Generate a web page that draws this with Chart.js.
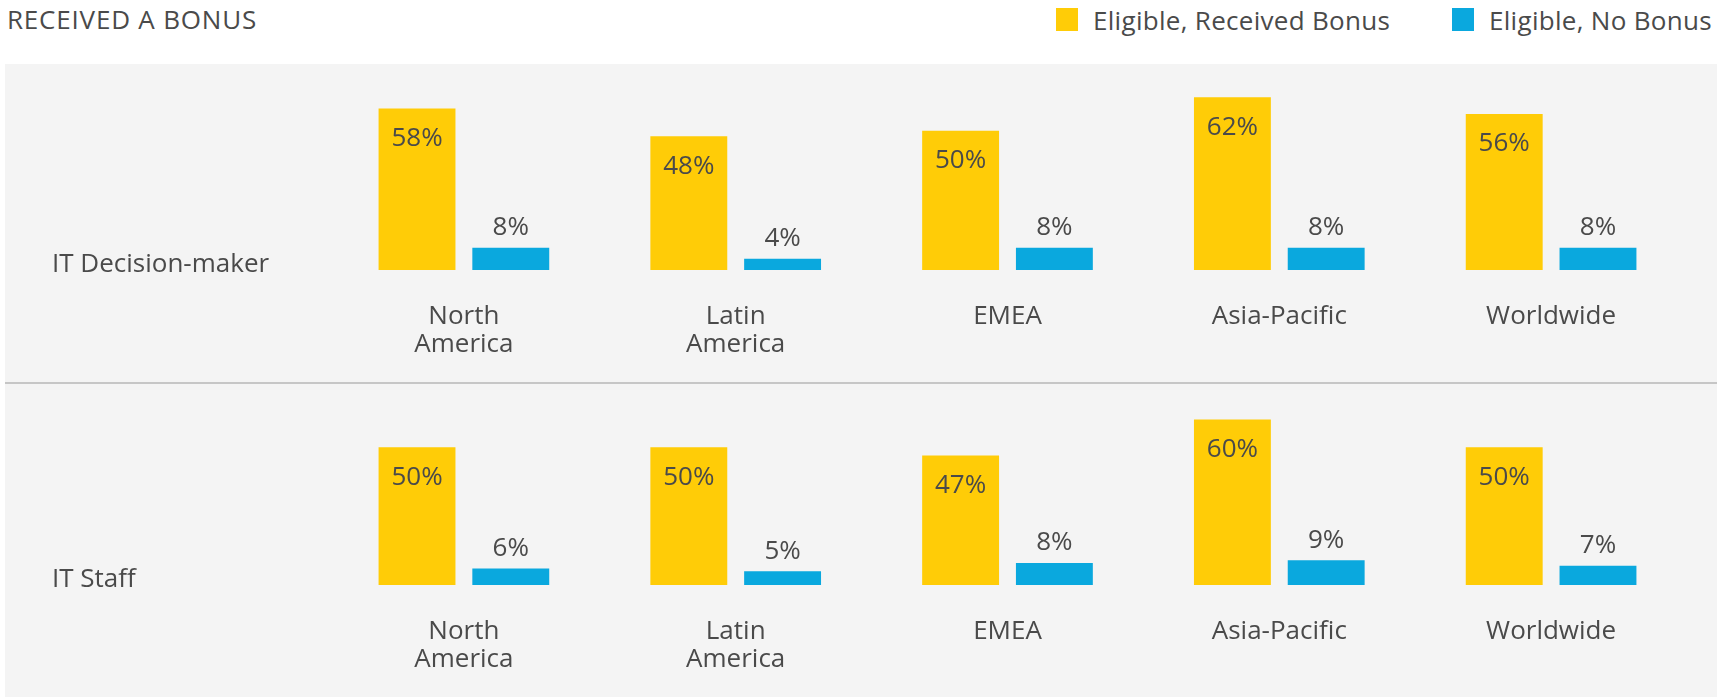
<!doctype html>
<html>

<head>
	<title>Received a Bonus</title>
	<script src="https://cdn.jsdelivr.net/npm/chart.js@4.4.1/dist/chart.umd.min.js"></script>
	<style>
		body {
			margin: 0;
			background: #fff;
			font-family: 'Open Sans', sans-serif;
			color: #4a4a4a;
		}
		#page {
			position: relative;
			width: 1729px;
			height: 697px;
			overflow: hidden;
		}
		#title {
			position: absolute;
			left: 7px;
			top: 2px;
			font-size: 26px;
			letter-spacing: 0.8px;
			line-height: 34px;
		}
		.legend-box {
			position: absolute;
			top: 8px;
			width: 22px;
			height: 23px;
		}
		.legend-text {
			position: absolute;
			top: 3px;
			font-size: 26px;
			letter-spacing: 0.3px;
			line-height: 34px;
		}
		.panel {
			position: absolute;
			left: 5px;
			width: 1712px;
			background: #f4f4f4;
		}
		#divider {
			position: absolute;
			left: 5px;
			width: 1712px;
			top: 382px;
			height: 2px;
			background: #c6c6c6;
		}
	</style>
</head>

<body>
	<div id="page">
		<div id="title">RECEIVED A BONUS</div>
		<div class="legend-box" style="left:1056px;background:#ffcc07;"></div>
		<div class="legend-text" id="legend0" style="left:1093px;"></div>
		<div class="legend-box" style="left:1452px;background:#0aa8de;"></div>
		<div class="legend-text" id="legend1" style="left:1489px;"></div>
		<div class="panel" style="top:64px;height:318px;"><canvas id="chart1"></canvas></div>
		<div id="divider"></div>
		<div class="panel" style="top:384px;height:313px;"><canvas id="chart2"></canvas></div>
	</div>
	<script>
		var regions = [['North', 'America'], ['Latin', 'America'], 'EMEA', 'Asia-Pacific', 'Worldwide'];
		var seriesNames = ['Eligible, Received Bonus', 'Eligible, No Bonus'];
		var rowLabels = ['IT Decision-maker', 'IT Staff'];

		var decisionMakerReceived = [58, 48, 50, 62, 56];
		var decisionMakerNoBonus = [8, 4, 8, 8, 8];
		var staffReceived = [50, 50, 47, 60, 50];
		var staffNoBonus = [6, 5, 8, 9, 7];

		var yellow = '#ffcc07';
		var blue = '#0aa8de';
		var textColor = '#4a4a4a';
		var fontFamily = "'Open Sans', sans-serif";

		document.getElementById('legend0').textContent = seriesNames[0];
		document.getElementById('legend1').textContent = seriesNames[1];

		// percentages above / inside the bars
		var valueLabels = {
			id: 'valueLabels',
			afterDatasetsDraw: function(chart) {
				var ctx = chart.ctx;
				ctx.save();
				ctx.font = '26px ' + fontFamily;
				ctx.fillStyle = textColor;
				ctx.textAlign = 'center';
				ctx.textBaseline = 'middle';
				chart.data.datasets.forEach(function(ds, i) {
					var meta = chart.getDatasetMeta(i);
					meta.data.forEach(function(bar, j) {
						var y = i === 0 ? bar.y + 30 : bar.y - 20;
						ctx.fillText(ds.data[j] + '%', bar.x, y);
					});
				});
				ctx.restore();
			}
		};

		// row name on the left of each panel
		var rowLabel = {
			id: 'rowLabel',
			afterDraw: function(chart, args, opts) {
				var ctx = chart.ctx;
				var base = chart.scales.y.getPixelForValue(0);
				ctx.save();
				ctx.font = '26px ' + fontFamily;
				ctx.fillStyle = textColor;
				ctx.textAlign = 'left';
				ctx.textBaseline = 'middle';
				ctx.fillText(opts.text, 47, base - 5);
				ctx.restore();
			}
		};

		function makeChart(id, label, received, noBonus, padTop, axisHeight) {
			return new Chart(document.getElementById(id), {
				type: 'bar',
				data: {
					labels: regions,
					datasets: [{
						label: seriesNames[0],
						data: received,
						backgroundColor: yellow,
						barPercentage: 0.82,
						categoryPercentage: 0.69
					}, {
						label: seriesNames[1],
						data: noBonus,
						backgroundColor: blue,
						barPercentage: 0.82,
						categoryPercentage: 0.69
					}]
				},
				options: {
					responsive: true,
					maintainAspectRatio: false,
					animation: false,
					layout: {
						padding: {top: padTop, left: 323, right: 30, bottom: 0}
					},
					plugins: {
						legend: {display: false},
						tooltip: {enabled: false},
						rowLabel: {text: label}
					},
					scales: {
						x: {
							grid: {display: false, drawTicks: false},
							border: {display: false},
							ticks: {
								color: textColor,
								font: {family: fontFamily, size: 26, lineHeight: 1.06},
								padding: 33,
								maxRotation: 0,
								autoSkip: false
							},
							afterFit: function(scale) {
								scale.height = axisHeight;
							}
						},
						y: {
							display: false,
							min: 0,
							max: 70
						}
					}
				},
				plugins: [valueLabels, rowLabel]
			});
		}

		window.onload = function() {
			makeChart('chart1', rowLabels[0], decisionMakerReceived, decisionMakerNoBonus, 11, 112);
			makeChart('chart2', rowLabels[1], staffReceived, staffNoBonus, 8, 112);
		};
	</script>
</body>

</html>
